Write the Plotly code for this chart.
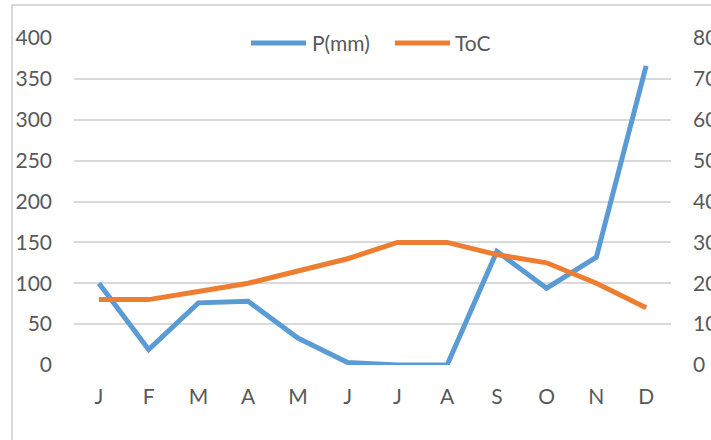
import plotly.graph_objects as go

# Monthly climate data
months = ["J", "F", "M", "A", "M", "J", "J", "A", "S", "O", "N", "D"]
precip_mm = [100, 19, 76, 78, 33, 3, 0, 0, 139, 94, 132, 366]
temp_c = [16, 16, 18, 20, 23, 26, 30, 30, 27, 25, 20, 14]

p_ticks = [0, 50, 100, 150, 200, 250, 300, 350, 400]
t_ticks = [0, 10, 20, 30, 40, 50, 60, 70, 80]

series_names = ["P(mm)", "ToC"]
series_colors = ["#5B9BD5", "#ED7D31"]

x_idx = list(range(len(months)))

FONT = "Lato"
TXT = "#595959"
FS = 21

# plot-area geometry in pixels
W, H = 711, 440
ML, MR, MT, MB = 74, 40, 38, 75
PW, PH = W - ML - MR, H - MT - MB


def px_x(px):
    return (px - ML) / PW


def px_y(py):
    return (H - MB - py) / PH


fig = go.Figure()
fig.add_trace(go.Scatter(
    x=x_idx, y=precip_mm, name=series_names[0], mode="lines",
    line=dict(color=series_colors[0], width=5),
    yaxis="y", showlegend=False,
))
fig.add_trace(go.Scatter(
    x=x_idx, y=temp_c, name=series_names[1], mode="lines",
    line=dict(color=series_colors[1], width=5),
    yaxis="y2", showlegend=False,
))

# chart frame
shapes = [dict(
    type="rect", xref="paper", yref="paper",
    x0=px_x(12), x1=px_x(730), y0=px_y(460), y1=px_y(5),
    line=dict(color="#D9D9D9", width=2), fillcolor="rgba(0,0,0,0)",
    layer="below",
)]

# legend box (white backing over the top gridline) with line keys
shapes.append(dict(
    type="rect", xref="paper", yref="paper",
    x0=px_x(246), x1=px_x(496), y0=px_y(55), y1=px_y(31),
    line=dict(width=0), fillcolor="white", layer="above",
))
legend_keys = [(251, 306, 310), (395, 450, 453)]
annotations = []
for (k0, k1, tx), name, col in zip(legend_keys, series_names, series_colors):
    shapes.append(dict(
        type="line", xref="paper", yref="paper",
        x0=px_x(k0), x1=px_x(k1), y0=px_y(43), y1=px_y(43),
        line=dict(color=col, width=5), layer="above",
    ))
    annotations.append(dict(
        text=name, xref="paper", yref="paper",
        x=px_x(tx), y=px_y(43), xanchor="left", yanchor="middle",
        showarrow=False, font=dict(family=FONT, size=FS, color=TXT),
    ))

fig.update_layout(
    width=W, height=H,
    margin=dict(l=ML, r=MR, t=MT, b=MB, autoexpand=False),
    paper_bgcolor="white", plot_bgcolor="white",
    font=dict(family=FONT, size=FS, color=TXT),
    showlegend=False,
    xaxis=dict(
        tickmode="array", tickvals=x_idx, ticktext=months,
        range=[-0.5, len(months) - 0.5],
        showgrid=False, zeroline=False, showline=False, ticks="",
        ticklabelstandoff=17, automargin=False,
    ),
    yaxis=dict(
        range=[0, 400], tickmode="array", tickvals=p_ticks,
        showgrid=True, gridcolor="#D9D9D9", gridwidth=2,
        zeroline=False, showline=False, ticks="",
        ticklabelstandoff=21, automargin=False,
    ),
    yaxis2=dict(
        range=[0, 80], tickmode="array", tickvals=t_ticks,
        overlaying="y", side="right",
        showgrid=False, zeroline=False, showline=False, ticks="",
        ticklabelstandoff=21, automargin=False,
    ),
    shapes=shapes,
    annotations=annotations,
)

fig.write_html("out.html")
